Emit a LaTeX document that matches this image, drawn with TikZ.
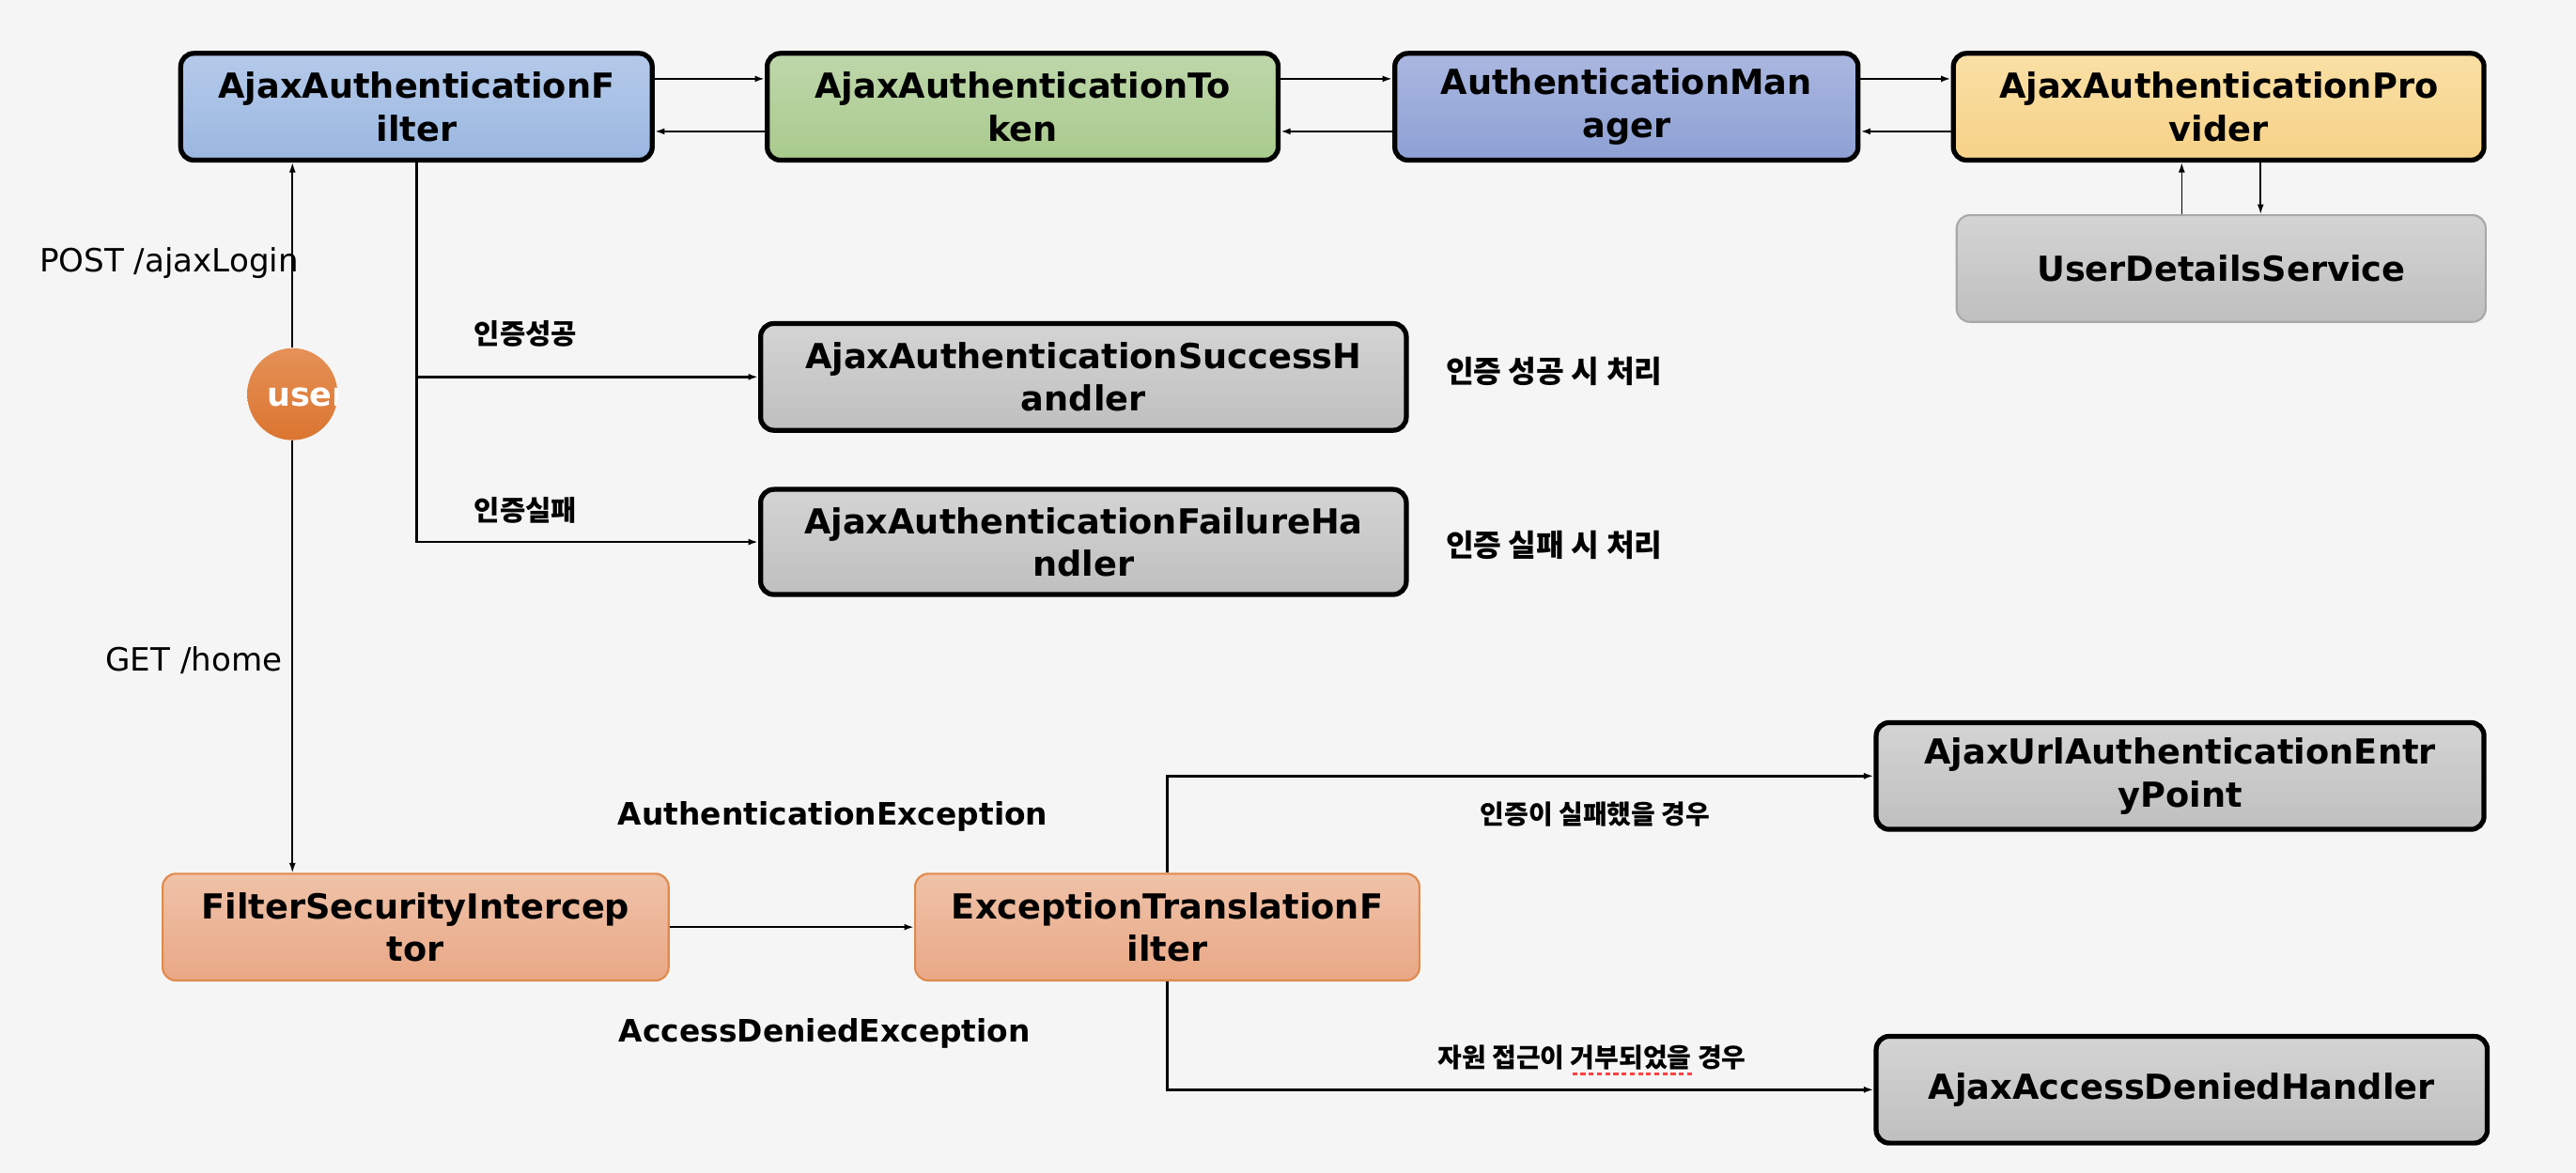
\documentclass[tikz,border=0pt]{standalone}
\usepackage{fontspec}
\setmainfont{DejaVu Sans}
\newfontfamily\kr{Noto Sans CJK KR}
\usetikzlibrary{arrows.meta,shapes.geometric}
\definecolor{bgc}{HTML}{F5F5F5}
\definecolor{oline}{HTML}{E0894A}

\begin{document}
\begin{tikzpicture}[x=1pt,y=-1pt,
  box/.style={draw=black,line width=3pt,rounded corners=8pt,align=center,
    inner sep=0pt,minimum height=65pt,font=\bfseries\fontsize{21}{26}\selectfont},
  soft/.style={box,line width=1.2pt},
  blue/.style={box,top color={rgb,255:red,181;green,202;blue,234},bottom color={rgb,255:red,154;green,183;blue,224}},
  green/.style={box,top color={rgb,255:red,191;green,215;blue,171},bottom color={rgb,255:red,168;green,202;blue,140}},
  violet/.style={box,top color={rgb,255:red,170;green,183;blue,224},bottom color={rgb,255:red,141;green,160;blue,211}},
  yellow/.style={box,top color={rgb,255:red,250;green,224;blue,166},bottom color={rgb,255:red,246;green,210;blue,135}},
  grey/.style={box,top color={rgb,255:red,212;green,212;blue,212},bottom color={rgb,255:red,191;green,191;blue,191}},
  greysoft/.style={grey,soft,draw={rgb,255:red,168;green,168;blue,168}},
  orange/.style={soft,draw=oline,top color={rgb,255:red,239;green,194;blue,168},bottom color={rgb,255:red,233;green,168;blue,134}},
  conn/.style={-{Latex[length=6pt,width=4pt]},line width=1.4pt},
  thinconn/.style={conn,line width=0.9pt},
  lbl/.style={font=\fontsize{19.5}{24}\selectfont},
  klbl/.style={font=\kr\bfseries\fontsize{17}{20}\selectfont},
  kwide/.style={font=\kr\bfseries\fontsize{18.5}{22}\selectfont},
  ksmall/.style={font=\kr\bfseries\fontsize{16}{20}\selectfont},
  exlbl/.style={font=\bfseries\fontsize{18.8}{22}\selectfont}]

  \fill[bgc] (0,0) rectangle (1568,714);
  \useasboundingbox (0,0) rectangle (1568,714);

  \node[blue,minimum width=287pt] (flt) at (253.5,65) {AjaxAuthenticationF\\ilter};
  \node[green,minimum width=311pt] (tok) at (622.5,65) {AjaxAuthenticationTo\\ken};
  \node[violet,minimum width=282pt] (mgr) at (990,65) {AuthenticationMan\\ager};
  \node[yellow,minimum width=323pt] (prv) at (1350.5,65) {AjaxAuthenticationPro\\vider};
  \node[greysoft,minimum width=322pt] (uds) at (1352,163.5) {UserDetailsService};

  \node[grey,minimum width=393pt] (suc) at (659.5,229.5) {AjaxAuthenticationSuccessH\\andler};
  \node[grey,minimum width=393pt,minimum height=64pt] (fail) at (659.5,330) {AjaxAuthenticationFailureHa\\ndler};

  \node[orange,minimum width=308pt] (fsi) at (253,564.5) {FilterSecurityIntercep\\tor};
  \node[orange,minimum width=307pt] (etf) at (710.5,564.5) {ExceptionTranslationF\\ilter};
  \node[grey,minimum width=370pt] (entry) at (1327,472.5) {AjaxUrlAuthenticationEntr\\yPoint};
  \node[grey,minimum width=372pt] (deny) at (1328,663.5) {AjaxAccessDeniedHandler};

  \node[ellipse,minimum width=55pt,minimum height=56pt,inner sep=0pt,
    top color={rgb,255:red,229;green,145;blue,87},bottom color={rgb,255:red,219;green,117;blue,48},
    path picture={\node[text=white,inner sep=0pt,font=\bfseries\fontsize{20}{24}\selectfont,anchor=west]
      at ([xshift=-26pt,yshift=-2pt]path picture bounding box.center) {user};}] (user) at (178,240) {};

  \draw[conn] ([yshift=17pt]flt.east) -- ([yshift=17pt]tok.west);
  \draw[conn] ([yshift=-15pt]tok.west) -- ([yshift=-15pt]flt.east);
  \draw[conn] ([yshift=17pt]tok.east) -- ([yshift=17pt]mgr.west);
  \draw[conn] ([yshift=-15pt]mgr.west) -- ([yshift=-15pt]tok.east);
  \draw[conn] ([yshift=17pt]mgr.east) -- ([yshift=17pt]prv.west);
  \draw[conn] ([yshift=-15pt]prv.west) -- ([yshift=-15pt]mgr.east);
  \draw[thinconn] ([xshift=-24pt]uds.north) -- ([xshift=-24pt]uds.north |- prv.south);
  \draw[thinconn] ([xshift=24pt]uds.north |- prv.south) -- ([xshift=24pt]uds.north);

  \draw[thinconn] (user.north) -- (user.north |- flt.south);
  \draw[thinconn] (user.south) -- (user.south |- fsi.north);
  \draw[conn] (flt.south) |- (suc.west);
  \draw[conn] (flt.south) |- (fail.west);

  \draw[conn] (fsi) -- (etf);
  \draw[conn] (etf.north) |- (entry.west);
  \draw[conn] (etf.south) |- (deny.west);

  \node[lbl] (post) at (103,160) {POST /ajaxLogin};
  \node[lbl] (get) at (118,402) {GET /home};
  \node[klbl] (okl) at (320,203) {인증성공};
  \node[klbl] (nol) at (320,311) {인증실패};
  \node[kwide] (okn) at (946,226) {인증 성공 시 처리};
  \node[kwide] (non) at (946,332) {인증 실패 시 처리};
  \node[ksmall] (authn) at (971,496) {인증이 실패했을 경우};
  \node[ksmall] (denyn) at (969,644) {자원 접근이 거부되었을 경우};
  \draw[red!75,line width=2pt,dash pattern=on 3pt off 2pt] (957,654) -- (1030,654);
  \node[exlbl] (aex) at (507,497) {AuthenticationException};
  \node[exlbl] (dex) at (502,629) {AccessDeniedException};
\end{tikzpicture}
\end{document}
